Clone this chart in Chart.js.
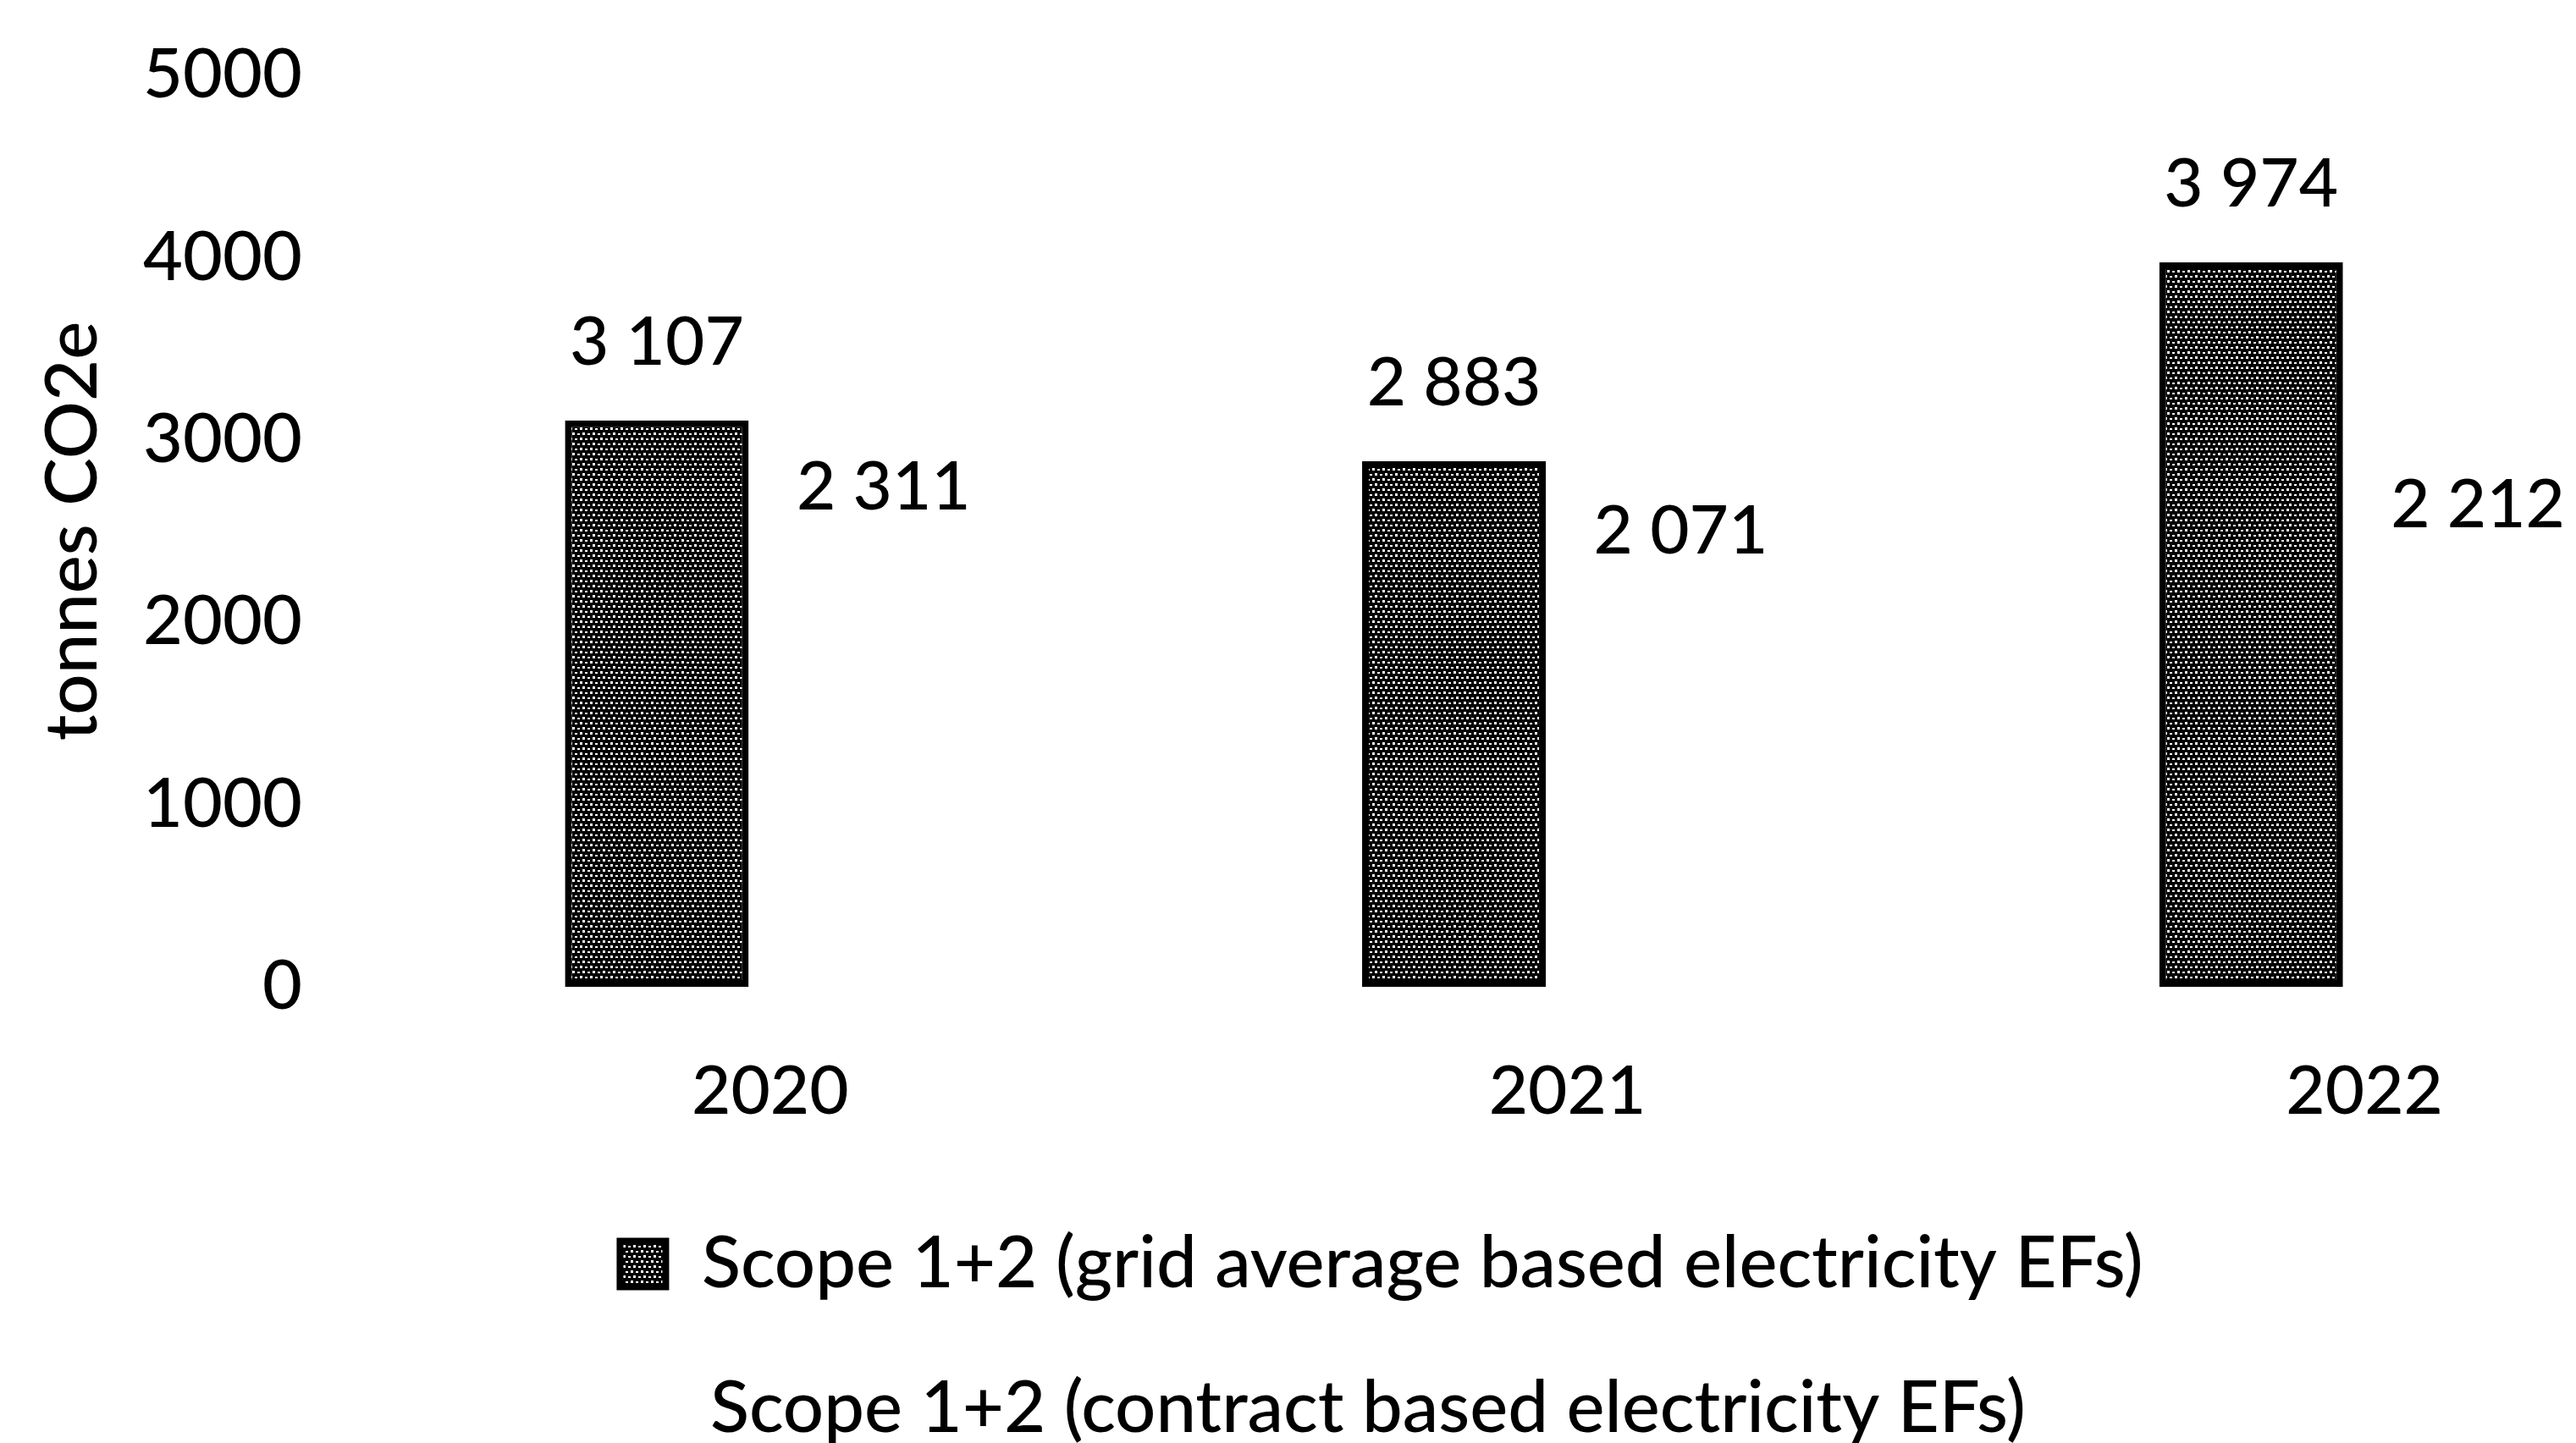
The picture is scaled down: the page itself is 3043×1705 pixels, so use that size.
<!DOCTYPE html>
<html>
<head>
<meta charset="utf-8">
<title>Scope 1+2 emissions</title>
<script src="https://cdn.jsdelivr.net/npm/chart.js@4.4.1/dist/chart.umd.min.js"></script>
<style>
    html, body { margin: 0; padding: 0; background: #fff; overflow: hidden; }
    #wrap { position: relative; width: 3302px; height: 1717px; }
</style>
</head>
<body>
<div id="wrap"><canvas id="emissionsChart"></canvas></div>
<script>
// Data
const years = ['2020', '2021', '2022'];
const gridAverage = [3107, 2883, 3974];
const contractBased = [2311, 2071, 2212];
const seriesNames = [
    'Scope 1+2 (grid average based electricity EFs)',
    'Scope 1+2 (contract based electricity EFs)'
];
const yAxisTitle = 'tonnes CO2e';
const yMin = 0;
const yMax = 5000;
const yStep = 1000;

const FONT = 'Lato';
const WEIGHT = 500;

// "3107" -> "3 107"
function spaced(v) {
    return String(v).replace(/\B(?=(\d{3})+(?!\d))/g, ' ');
}

// halftone-ish fill like the scanned bars
function makeStipple() {
    const tile = document.createElement('canvas');
    tile.width = 12;
    tile.height = 12;
    const t = tile.getContext('2d');
    t.fillStyle = '#000';
    t.fillRect(0, 0, 12, 12);
    t.fillStyle = '#fff';
    t.fillRect(1, 1, 3, 3);
    t.fillRect(7, 2, 3, 2);
    t.fillRect(4, 7, 3, 3);
    t.fillRect(10, 8, 2, 2);
    t.fillRect(0, 8, 1, 2);
    return t.createPattern(tile, 'repeat');
}

// value labels above each bar (both series)
const valueLabels = {
    id: 'valueLabels',
    afterDatasetsDraw(chart) {
        const ctx = chart.ctx;
        ctx.save();
        ctx.font = `${WEIGHT} 80px ${FONT}`;
        ctx.fillStyle = '#000';
        ctx.textAlign = 'center';
        ctx.textBaseline = 'middle';
        chart.data.datasets.forEach((ds, i) => {
            chart.getDatasetMeta(i).data.forEach((bar, j) => {
                ctx.fillText(spaced(ds.data[j]), bar.x, bar.y - 92);
            });
        });
        ctx.restore();
    }
};

Chart.defaults.color = '#000';
Chart.defaults.font.family = FONT;
Chart.defaults.font.weight = WEIGHT;

const ctx = document.getElementById('emissionsChart').getContext('2d');
const stipple = makeStipple();

const emissionsChart = new Chart(ctx, {
    type: 'bar',
    data: {
        labels: years,
        datasets: [{
            label: seriesNames[0],
            data: gridAverage,
            backgroundColor: stipple,
            borderColor: '#000',
            borderWidth: 8,
            borderSkipped: false
        }, {
            label: seriesNames[1],
            data: contractBased,
            backgroundColor: 'rgba(255,255,255,0)',
            borderColor: 'rgba(255,255,255,0)',
            borderWidth: 0
        }]
    },
    options: {
        responsive: true,
        maintainAspectRatio: false,
        animation: false,
        layout: {
            padding: { top: 89, right: 38, left: 0, bottom: 0 }
        },
        datasets: {
            bar: { categoryPercentage: 0.569, barPercentage: 0.81 }
        },
        scales: {
            x: {
                grid: { display: false, drawTicks: false },
                border: { display: false },
                ticks: { font: { size: 80, lineHeight: 1.8 }, padding: 52 },
                afterFit: (scale) => { scale.height = 199; }
            },
            y: {
                min: yMin,
                max: yMax,
                grid: { display: false, drawTicks: false },
                border: { display: false },
                ticks: {
                    stepSize: yStep,
                    font: { size: 81 },
                    padding: 82,
                    callback: (v) => String(v)
                },
                title: {
                    display: true,
                    text: yAxisTitle,
                    font: { size: 85, lineHeight: 1.2 },
                    padding: { top: 36, bottom: 0 }
                },
                // the tick padding would otherwise push the plot top down
                afterFit: (scale) => {
                    scale.width = 439;
                    scale.paddingTop = 0;
                }
            }
        },
        plugins: {
            tooltip: { enabled: false },
            legend: {
                position: 'bottom',
                labels: {
                    font: { size: 85 },
                    boxWidth: 54,
                    boxHeight: 54,
                    padding: 86,
                    // pad the shorter entry so both rows start at the same x
                    generateLabels(chart) {
                        const items = Chart.defaults.plugins.legend.labels.generateLabels(chart);
                        const c = chart.ctx;
                        c.save();
                        c.font = `${WEIGHT} 85px ${FONT}`;
                        const w0 = c.measureText(items[0].text).width;
                        while (c.measureText(items[1].text + '\u00a0').width <= w0) {
                            items[1].text += '\u00a0';
                        }
                        c.restore();
                        return items;
                    }
                }
            }
        }
    },
    plugins: [valueLabels]
});
</script>
</body>
</html>
